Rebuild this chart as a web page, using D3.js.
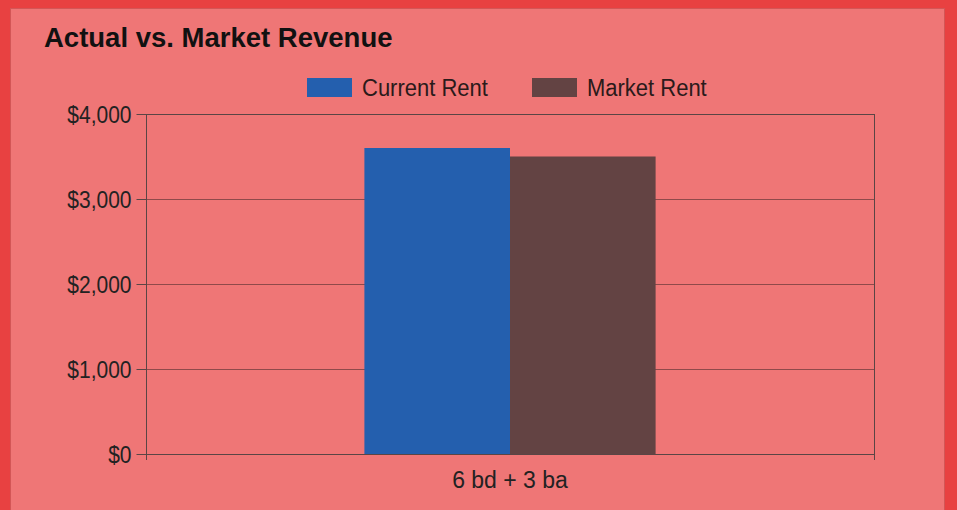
<!DOCTYPE html>
<html>
<head>
<meta charset="utf-8">
<script src="https://cdn.jsdelivr.net/npm/d3@7"></script>
<style>
  html, body { margin: 0; padding: 0; background: #e84141; }
  body { width: 957px; height: 510px; overflow: hidden; }
  svg { display: block; font-family: "Liberation Sans", Arial, sans-serif; }
</style>
</head>
<body>
<div id="chart"></div>
<script>
var categories = ["6 bd + 3 ba"];
var seriesNames = ["Current Rent", "Market Rent"];
var currentRent = [3600];
var marketRent = [3500];
var yTicks = [0, 1000, 2000, 3000, 4000];

var colors = {"Current Rent": "#245fae", "Market Rent": "#634343"};

var W = 957, H = 510;
var margin = {top: 114, right: 83, bottom: 56, left: 146};
var width = W - margin.left - margin.right,
    height = H - margin.top - margin.bottom;

var svg = d3.select("#chart").append("svg")
    .attr("width", W)
    .attr("height", H);

// panel
svg.append("rect")
  .attr("x", 10.5).attr("y", 8.5)
  .attr("width", 934).attr("height", 510)
  .attr("fill", "#ef7676")
  .attr("stroke", "#d35656")
  .attr("stroke-width", 1);

svg.append("text")
  .attr("x", 44).attr("y", 47)
  .attr("font-size", "27.5px")
  .attr("font-weight", "bold")
  .attr("fill", "#111")
  .text("Actual vs. Market Revenue");

// legend
var legendX = [307, 532];
var legend = svg.append("g").selectAll("g")
  .data(seriesNames)
  .enter().append("g")
  .attr("transform", function(d, i) { return "translate(" + legendX[i] + ",78)"; });
legend.append("rect")
  .attr("width", 45).attr("height", 19)
  .attr("fill", function(d) { return colors[d]; });
legend.append("text")
  .attr("transform", "translate(55,18) scale(1,1.1)")
  .attr("font-size", "22px")
  .attr("fill", "#2a1a1a")
  .text(function(d) { return d; });

var g = svg.append("g")
  .attr("transform", "translate(" + margin.left + "," + margin.top + ")");

var x0 = d3.scaleBand().domain(categories).range([0, width]).paddingInner(0).paddingOuter(0);
var x1 = d3.scaleBand().domain(seriesNames)
  .range([x0.bandwidth() * 0.3, x0.bandwidth() * 0.7]);
var y = d3.scaleLinear().domain([0, 4000]).range([height, 0]);

// gridlines
g.append("g").selectAll("line")
  .data(yTicks.slice(1, -1))
  .enter().append("line")
  .attr("x1", 0).attr("x2", width)
  .attr("y1", function(d) { return Math.round(y(d)) + 0.5; })
  .attr("y2", function(d) { return Math.round(y(d)) + 0.5; })
  .attr("stroke", "#8f4a4a");

var rows = categories.map(function(c, i) {
  return {cat: c, values: [
    {key: "Current Rent", value: currentRent[i]},
    {key: "Market Rent", value: marketRent[i]}
  ]};
});

g.selectAll(".group")
  .data(rows)
  .enter().append("g")
  .attr("transform", function(d) { return "translate(" + x0(d.cat) + ",0)"; })
  .selectAll("rect")
  .data(function(d) { return d.values; })
  .enter().append("rect")
  .attr("x", function(d) { return x1(d.key); })
  .attr("width", x1.bandwidth())
  .attr("y", function(d) { return y(d.value); })
  .attr("height", function(d) { return height - y(d.value); })
  .attr("fill", function(d) { return colors[d.key]; });

// frame
g.append("rect")
  .attr("x", 0.5).attr("y", 0.5)
  .attr("width", width).attr("height", height)
  .attr("fill", "none")
  .attr("stroke", "#5a4545");

var yAxis = d3.axisLeft(y)
  .tickValues(yTicks)
  .tickSize(10)
  .tickPadding(5)
  .tickFormat(function(d) { return "$" + d3.format(",")(d); });

g.append("g")
  .attr("transform", "translate(0.5,0)")
  .call(yAxis)
  .call(function(s) { s.select(".domain").remove(); })
  .call(function(s) {
    s.selectAll("line").attr("stroke", "#5a4545");
    s.selectAll("text").attr("font-size", "21px").attr("fill", "#222")
      .attr("font-family", "Liberation Sans, Arial, sans-serif")
      .attr("dy", "0.34em")
      .attr("transform", "scale(1,1.12)");
  });

var xTickScale = d3.scaleLinear().domain([0, 1]).range([0, width]);
g.append("g")
  .attr("transform", "translate(0.5," + height + ")")
  .selectAll("line")
  .data([0, 1])
  .enter().append("line")
  .attr("x1", function(d) { return xTickScale(d); })
  .attr("x2", function(d) { return xTickScale(d); })
  .attr("y1", 0).attr("y2", 6)
  .attr("stroke", "#5a4545");

g.append("g")
  .selectAll("text")
  .data(categories)
  .enter().append("text")
  .attr("x", function(d) { return x0(d) + x0.bandwidth() / 2; })
  .attr("y", height + 34)
  .attr("text-anchor", "middle")
  .attr("font-size", "23px")
  .attr("fill", "#222")
  .text(function(d) { return d; });
</script>
</body>
</html>
